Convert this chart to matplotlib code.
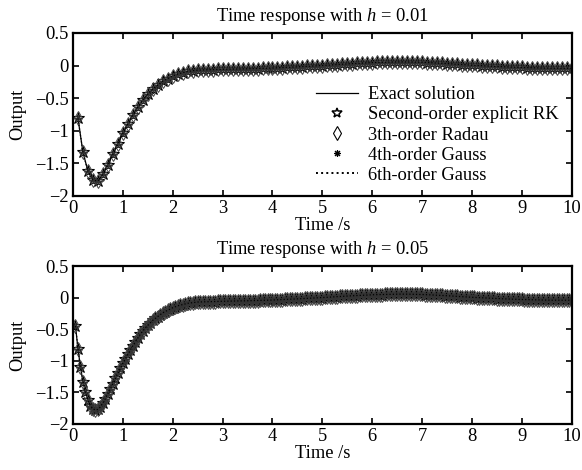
import numpy as np
import matplotlib
matplotlib.use('Agg')
import matplotlib.pyplot as plt
from matplotlib.lines import Line2D

plt.rcParams.update({
    'font.family': 'Liberation Serif',
    'font.size': 13.3,
    'mathtext.fontset': 'custom',
    'mathtext.rm': 'Liberation Serif',
    'mathtext.it': 'Liberation Serif:italic',
    'axes.linewidth': 1.6,
    'xtick.direction': 'in',
    'ytick.direction': 'in',
    'xtick.top': True,
    'ytick.right': True,
    'xtick.major.size': 4,
    'ytick.major.size': 4,
    'xtick.major.width': 1.2,
    'ytick.major.width': 1.2,
})

# step sizes of the two runs
steps = [0.01, 0.05]
titles = ['Time response with $h$ = 0.01', 'Time response with $h$ = 0.05']

output = [
    -0.45, -0.81, -1.10, -1.33, -1.50, -1.62, -1.71, -1.76, -1.78, -1.77,
    -1.73, -1.67, -1.60, -1.52, -1.44, -1.36, -1.28, -1.20, -1.12, -1.04,
    -0.97, -0.90, -0.83, -0.76, -0.70, -0.64, -0.58, -0.53, -0.48, -0.44,
    -0.40, -0.36, -0.33, -0.30, -0.27, -0.24, -0.22, -0.20, -0.18, -0.16,
    -0.145, -0.13, -0.12, -0.11, -0.10, -0.09, -0.085, -0.08, -0.075, -0.070,
    -0.069, -0.068, -0.067, -0.065, -0.064, -0.063, -0.062, -0.060, -0.059, -0.058,
    -0.057, -0.056, -0.056, -0.055, -0.054, -0.053, -0.052, -0.052, -0.051, -0.050,
    -0.049, -0.048, -0.047, -0.046, -0.045, -0.043, -0.042, -0.041, -0.040, -0.038,
    -0.036, -0.035, -0.033, -0.031, -0.029, -0.027, -0.025, -0.024, -0.022, -0.020,
    -0.018, -0.016, -0.014, -0.012, -0.010, -0.008, -0.006, -0.004, -0.002, 0.000,
    0.003, 0.005, 0.008, 0.010, 0.013, 0.015, 0.018, 0.020, 0.022, 0.025,
    0.027, 0.029, 0.031, 0.033, 0.035, 0.037, 0.039, 0.041, 0.043, 0.045,
    0.046, 0.047, 0.048, 0.049, 0.050, 0.051, 0.052, 0.053, 0.054, 0.055,
    0.055, 0.055, 0.055, 0.054, 0.054, 0.053, 0.052, 0.052, 0.051, 0.050,
    0.048, 0.046, 0.044, 0.042, 0.040, 0.038, 0.036, 0.034, 0.032, 0.030,
    0.027, 0.025, 0.022, 0.020, 0.017, 0.015, 0.012, 0.010, 0.007, 0.005,
    0.003, 0.001, -0.001, -0.003, -0.005, -0.007, -0.009, -0.011, -0.013, -0.015,
    -0.017, -0.018, -0.020, -0.021, -0.023, -0.024, -0.026, -0.027, -0.029, -0.030,
    -0.031, -0.032, -0.033, -0.034, -0.035, -0.036, -0.037, -0.038, -0.039, -0.040,
    -0.040, -0.041, -0.041, -0.041, -0.042, -0.042, -0.042, -0.042, -0.042, -0.042,
]
output = np.array(output)
time = np.arange(1, len(output) + 1) * 0.05

# points shown every 0.1 s in the upper plot, every 0.05 s in the lower one
sample_every = [2, 1]

labels = ['Exact solution', 'Second-order explicit RK', '3th-order Radau',
          '4th-order Gauss', '6th-order Gauss']

fig = plt.figure(figsize=(5.82, 4.70), dpi=100)
ax_top = fig.add_axes([0.1254, 0.583, 0.857, 0.347])
ax_bot = fig.add_axes([0.1254, 0.098, 0.857, 0.336])

asterisk = (8, 2, 0)
for ax, title, every in zip([ax_top, ax_bot], titles, sample_every):
    t_m = time[every - 1::every]
    y_m = output[every - 1::every]
    ax.plot(t_m, y_m, color='k', lw=0.9)
    ax.plot(t_m, y_m, ls='none', marker='*', ms=9, mfc='none', mec='k', mew=0.8)
    ax.plot(t_m, y_m, ls='none', marker='d', ms=7, mfc='none', mec='#444444', mew=0.7)
    ax.plot(t_m, y_m, ls='none', marker=asterisk, ms=5, mec='#333333', mew=0.7)
    ax.plot(t_m, y_m, color='k', ls=':', lw=0.9)

    ax.set_xlim(0, 10)
    ax.set_ylim(-2, 0.5)
    ax.set_xticks(range(0, 11))
    ax.set_yticks([0.5, 0, -0.5, -1, -1.5, -2])
    ax.set_yticklabels(['0.5', '0', '\u22120.5', '\u22121', '\u22121.5', '\u22122'])
    ax.tick_params(pad=3)
    ax.set_title(title, fontsize=13.3, pad=8.5)
    ax.set_xlabel('Time /s', labelpad=0)
    ax.set_ylabel('Output', labelpad=6)

handles = [
    Line2D([], [], color='k', lw=0.9),
    Line2D([], [], ls='none', marker='*', ms=7, mfc='none', mec='k', mew=1.1),
    Line2D([], [], ls='none', marker='d', ms=7, mfc='none', mec='k', mew=0.8),
    Line2D([], [], ls='none', marker=asterisk, ms=5, mec='k', mew=0.8),
    Line2D([], [], color='k', ls=':', lw=1.4),
]
fig.legend(handles, labels, loc='upper left', bbox_to_anchor=(0.527, 0.836),
           bbox_transform=fig.transFigure, frameon=False, borderpad=0,
           handlelength=2.3, handletextpad=0.5, labelspacing=0.17,
           fontsize=13.3)

fig.savefig('out.png', dpi=100)
